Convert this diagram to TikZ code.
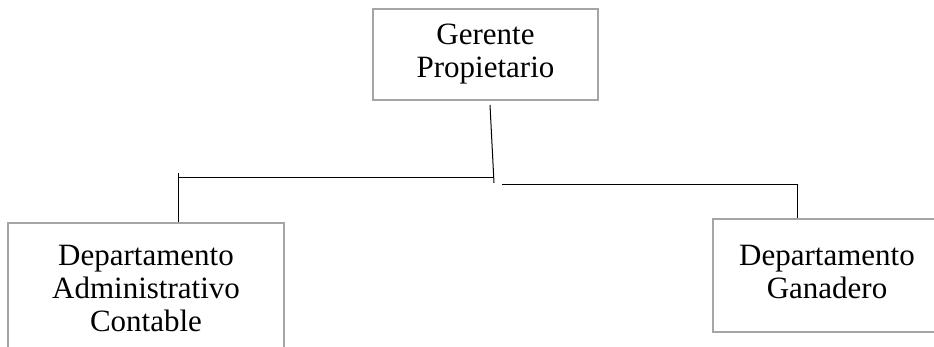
\documentclass[tikz,border=0pt]{standalone}
\usepackage{fontspec}
\setmainfont{Liberation Serif}
\definecolor{boxgray}{RGB}{165,165,165}
\begin{document}
\begin{tikzpicture}[x=1pt,y=-1pt,
  orgbox/.style={draw=boxgray,line width=2.2pt,fill=white,align=center,inner sep=0pt,
    font=\fontsize{31}{33}\selectfont},
  link/.style={draw=black,line width=1pt}]
\useasboundingbox (0,0) rectangle (934,347);
\clip (0,0) rectangle (934,347);
\node[orgbox,minimum width=225pt,minimum height=91pt] (g) at (485.5,54.5) {Gerente\\Propietario};
\node[orgbox,minimum width=276pt,minimum height=132pt] (a) at (146,289) {Departamento\\Administrativo\\Contable};
\node[orgbox,minimum width=232pt,minimum height=113pt,anchor=north west,text width=230pt] (d) at (712,218) {};
\node[font=\fontsize{31}{33}\selectfont,align=center,inner sep=0pt] (dt) at (827,272.5) {Departamento\\Ganadero};
\coordinate (gtop) at (490,105);
\coordinate (gbot) at (494,183);
\coordinate (lt) at (178,173);
\coordinate (rl) at (502,184.5);
\coordinate (rr) at (797,184.5);
\draw[link] (gtop) -- (gbot);
\draw[link] (lt |- 0,178) -- (gbot |- 0,178);
\draw[link] (lt) -- (lt |- a.north);
\draw[link] (rl) -- (rr) -- (rr |- d.north);
\end{tikzpicture}
\end{document}
